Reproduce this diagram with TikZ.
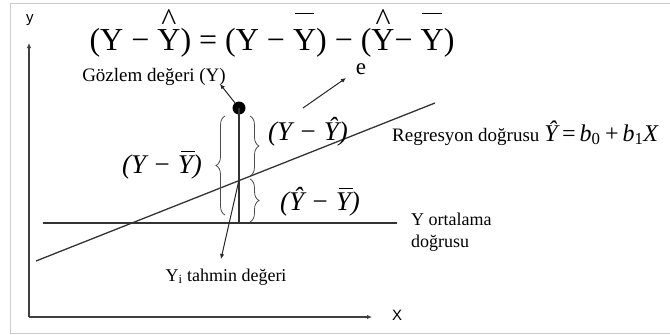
\documentclass[tikz,border=0pt]{standalone}
\usepackage{fontspec}
\setmainfont{Liberation Serif}
\newfontfamily\arialf{Liberation Sans}
\usetikzlibrary{arrows.meta,decorations.pathreplacing}
\newcommand\HY{\ooalign{Y\cr\hidewidth\raisebox{0.6em}{\textasciicircum}\hidewidth\cr}}
\newcommand\BY{\ooalign{Y\cr\hidewidth\rule[1.12em]{0.62em}{0.045em}\hidewidth\cr}}
\newcommand\IBY{\ooalign{Y\cr\hidewidth\kern0.18em\rule[0.8em]{0.5em}{0.04em}\hidewidth\cr}}
\tikzset{
  ln/.style={draw=black!80, line width=1.3pt},
  axis/.style={draw=black!75, line width=1.3pt, -{Latex[length=5pt,width=4.5pt]}},
  arr/.style={draw=black!85, line width=1pt, -{Latex[length=5pt,width=4.5pt]}},
  brc/.style={draw=black!70, line width=0.8pt, decorate, decoration={brace, amplitude=9pt}},
  lbl/.style={inner sep=0pt, font=\fontsize{18}{22}\selectfont},
  ilbl/.style={inner sep=0pt, font=\fontsize{27}{30}\selectfont\itshape},
  axlbl/.style={inner sep=0pt, font=\arialf\fontsize{15}{17}\selectfont},
}
\begin{document}
\begin{tikzpicture}[x=1pt,y=-1pt]
\useasboundingbox (0,0) rectangle (670,335);
\draw[black!20, line width=0.8pt] (670,3) -- (10,3) -- (10,333) -- (670,333);
% axes
\coordinate (O) at (29,317);
\coordinate (ytop) at (29,43);
\coordinate (xend) at (372,317);
\draw[axis] (O) -- (ytop);
\draw[axis] (O) -- (xend);
\node[axlbl] (ylab) at (30,20) {y};
\node[axlbl] (xlab) at (397,315) {X};
% lines
\coordinate (r1) at (36,261);
\coordinate (r2) at (435,103);
\coordinate (m1) at (43,223);
\coordinate (m2) at (397,223);
\draw[ln] (r1) -- (r2);
\draw[ln] (m1) -- (m2);
% points
\node[circle, fill=black, inner sep=0pt, minimum size=13pt] (obs) at (239,108) {};
\coordinate (pred) at (239,180);
\coordinate (mean) at (239,223);
\draw[ln, line width=1.1pt] (obs.center) -- (mean);
% braces
\draw[brc] (225,215) -- (225,116);
\draw[brc] (250,116) -- (250,176);
\draw[brc] (250,179) -- (250,222);
% equation
\node[inner sep=0pt, anchor=base, text depth=0pt, font=\fontsize{32}{36}\selectfont] (eq) at (272,50)
  {(Y − \HY) = (Y − \BY) − (\HY− \BY)};
% labels
\node[lbl, font=\fontsize{19}{22}\selectfont] (gozlem) at (154,77) {Gözlem değeri (Y)};
\coordinate (gz) at (220,84);
\draw[arr] (obs) -- (gz);
\node[inner sep=0pt, font=\fontsize{23}{26}\selectfont] (e) at (361,69) {e};
\coordinate (es) at (303,108);
\coordinate (ee) at (346,78);
\draw[arr] (es) -- (ee);
\node[ilbl] (d1) at (308,132) {(Y − Ŷ)};
\node[ilbl] (d2) at (162,167) {(Y − \IBY)};
\node[ilbl] (d3) at (320,202) {(Ŷ − \IBY)};
\node[inner sep=0pt, anchor=west] (reg) at (392,133)
  {{\fontsize{19}{22}\selectfont Regresyon doğrusu}\hspace{5pt}{\fontsize{24}{28}\selectfont\itshape Ŷ\hspace{0.12em}=\hspace{0.12em}b\textsubscript{\upshape 0}\hspace{0.12em}+\hspace{0.12em}b\textsubscript{\upshape 1}X}};
\node[lbl, anchor=west, align=left] (ort) at (411,232) {Y ortalama\\doğrusu};
\node[lbl] (tahmin) at (226,277) {Y\textsubscript{i} tahmin değeri};
\coordinate (th) at (221,259);
\draw[arr] (pred) -- (th);
\end{tikzpicture}
\end{document}
